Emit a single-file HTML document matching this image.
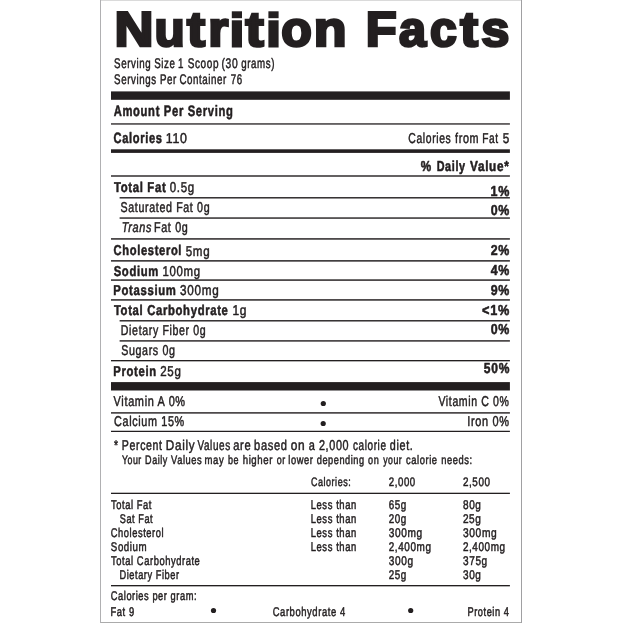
<!DOCTYPE html>
<html><head><meta charset="utf-8"><title>Nutrition Facts</title>
<style>
html,body{margin:0;padding:0;background:#fff;}
body{width:623px;height:623px;overflow:hidden;font-family:"Liberation Sans",sans-serif;}
svg{display:block;will-change:transform}
text{font-family:"Liberation Sans",sans-serif;fill:#231f20;stroke:#231f20;stroke-linejoin:round;text-rendering:geometricPrecision;letter-spacing:0.06em}
.b{font-weight:bold}.i{font-style:italic}
.t text{stroke-linejoin:miter;stroke-miterlimit:6;letter-spacing:0}
</style></head><body>
<svg width="623" height="623" viewBox="0 0 623 623">
<rect x="0" y="0" width="623" height="623" fill="#fff"/>

<rect x="100" y="0" width="422" height="1" fill="#dadada"/><rect x="100" y="622" width="422" height="1" fill="#ababab"/><rect x="100" y="0" width="1" height="623" fill="#b0b0b2"/><rect x="521" y="0" width="1" height="623" fill="#a0a0a2"/>
<rect x="111.0" y="91.4" width="398.9" height="8.40" fill="#231f20"/>
<rect x="111.0" y="123.3" width="398.9" height="1.30" fill="#231f20"/>
<rect x="111.0" y="149.3" width="398.9" height="3.60" fill="#231f20"/>
<rect x="111.0" y="175.3" width="398.9" height="1.40" fill="#231f20"/>
<rect x="119.6" y="197.1" width="390.3" height="1.40" fill="#231f20"/>
<rect x="119.6" y="217.35" width="390.3" height="1.40" fill="#231f20"/>
<rect x="111.0" y="238.2" width="398.9" height="1.45" fill="#231f20"/>
<rect x="111.0" y="260.15" width="398.9" height="1.45" fill="#231f20"/>
<rect x="111.0" y="279.35" width="398.9" height="1.45" fill="#231f20"/>
<rect x="111.0" y="299.2" width="398.9" height="1.45" fill="#231f20"/>
<rect x="119.6" y="320.1" width="390.3" height="1.40" fill="#231f20"/>
<rect x="119.6" y="340.2" width="390.3" height="1.40" fill="#231f20"/>
<rect x="111.0" y="360.0" width="398.9" height="1.35" fill="#231f20"/>
<rect x="111.0" y="382.1" width="398.9" height="8.40" fill="#231f20"/>
<rect x="111.0" y="412.2" width="398.9" height="1.40" fill="#231f20"/>
<rect x="111.0" y="430.75" width="398.9" height="1.25" fill="#231f20"/>
<rect x="111.0" y="492.7" width="398.9" height="1.30" fill="#231f20"/>
<rect x="111.0" y="585.0" width="398.9" height="1.35" fill="#231f20"/>
<circle cx="323.3" cy="403.5" r="2.6" fill="#231f20"/>
<circle cx="323.2" cy="423.5" r="2.6" fill="#231f20"/>
<circle cx="213.5" cy="610.5" r="2.6" fill="#231f20"/>
<circle cx="410.7" cy="610.5" r="2.6" fill="#231f20"/>
<text transform="translate(114.09 68) scale(0.7000 1)" font-size="13.91" stroke-width="0.5">Serving</text>
<text transform="translate(154.18 68) scale(0.7000 1)" font-size="13.91" stroke-width="0.5">Size</text>
<text transform="translate(178.08 68) scale(0.7000 1)" font-size="13.91" stroke-width="0.5">1</text>
<text transform="translate(187.68 68) scale(0.7197 1)" font-size="13.91" stroke-width="0.5">Scoop</text>
<text transform="translate(221.57 68) scale(0.7398 1)" font-size="13.91" stroke-width="0.5">(30</text>
<text transform="translate(241.19 68) scale(0.7000 1)" font-size="13.91" stroke-width="0.5">grams)</text>
<text transform="translate(114.06 84) scale(0.7000 1)" font-size="13.91" stroke-width="0.5">Servings</text>
<text transform="translate(159.93 84) scale(0.7000 1)" font-size="13.91" stroke-width="0.5">Per</text>
<text transform="translate(179.38 84) scale(0.7000 1)" font-size="13.91" stroke-width="0.5">Container</text>
<text transform="translate(230.65 84) scale(0.7000 1)" font-size="13.91" stroke-width="0.5">76</text>
<text transform="translate(121.84 450) scale(0.7444 1)" font-size="14.20" stroke-width="0.5">Percent</text>
<text transform="translate(165.77 450) scale(0.8250 1)" font-size="14.20" stroke-width="0.5">Daily</text>
<text transform="translate(197.49 450) scale(0.7000 1)" font-size="14.20" stroke-width="0.5">Values</text>
<text transform="translate(233.25 450) scale(0.7853 1)" font-size="14.20" stroke-width="0.5">are</text>
<text transform="translate(254.12 450) scale(0.7814 1)" font-size="14.20" stroke-width="0.5">based</text>
<text transform="translate(290.63 450) scale(0.8409 1)" font-size="14.20" stroke-width="0.5">on</text>
<text transform="translate(308.65 450) scale(0.7736 1)" font-size="14.20" stroke-width="0.5">a</text>
<text transform="translate(318.95 450) scale(0.7630 1)" font-size="14.20" stroke-width="0.5">2,000</text>
<text transform="translate(352.98 450) scale(0.7030 1)" font-size="14.20" stroke-width="0.5">calorie</text>
<text transform="translate(389.86 450) scale(0.7576 1)" font-size="14.20" stroke-width="0.5">diet.</text>
<text transform="translate(121.91 464) scale(0.7152 1)" font-size="12.32" stroke-width="0.5">Your</text>
<text transform="translate(145.06 464) scale(0.7344 1)" font-size="12.32" stroke-width="0.5">Daily</text>
<text transform="translate(171.10 464) scale(0.7547 1)" font-size="12.32" stroke-width="0.5">Values</text>
<text transform="translate(204.53 464) scale(0.7746 1)" font-size="12.32" stroke-width="0.5">may</text>
<text transform="translate(227.95 464) scale(0.7302 1)" font-size="12.32" stroke-width="0.5">be</text>
<text transform="translate(242.72 464) scale(0.7821 1)" font-size="12.32" stroke-width="0.5">higher</text>
<text transform="translate(276.72 464) scale(0.7240 1)" font-size="12.32" stroke-width="0.5">or</text>
<text transform="translate(288.34 464) scale(0.7581 1)" font-size="12.32" stroke-width="0.5">lower</text>
<text transform="translate(316.72 464) scale(0.7479 1)" font-size="12.32" stroke-width="0.5">depending</text>
<text transform="translate(368.12 464) scale(0.7382 1)" font-size="12.32" stroke-width="0.5">on</text>
<text transform="translate(383.18 464) scale(0.7096 1)" font-size="12.32" stroke-width="0.5">your</text>
<text transform="translate(406.02 464) scale(0.7618 1)" font-size="12.32" stroke-width="0.5">calorie</text>
<text transform="translate(441.24 464) scale(0.7580 1)" font-size="12.32" stroke-width="0.5">needs:</text>
<text class="b" transform="translate(113.67 116) scale(0.7411 1)" font-size="15.14" stroke-width="0.55">Amount Per Serving</text>
<text class="b" transform="translate(113.56 143) scale(0.7398 1)" font-size="15.00" stroke-width="0.55">Calories</text>
<text transform="translate(165.72 143) scale(0.8665 1)" font-size="14.35" stroke-width="0.5">110</text>
<text transform="translate(408.36 143) scale(0.7220 1)" font-size="14.35" stroke-width="0.5">Calories</text>
<text transform="translate(454.98 143) scale(0.7542 1)" font-size="14.35" stroke-width="0.5">from</text>
<text transform="translate(482.26 143) scale(0.7085 1)" font-size="14.35" stroke-width="0.5">Fat</text>
<text transform="translate(502.84 143) scale(0.8145 1)" font-size="14.35" stroke-width="0.5">5</text>
<text class="b" transform="translate(420.87 171) scale(0.8148 1)" font-size="14.42" stroke-width="0.55">%</text>
<text class="b" transform="translate(436.65 171) scale(0.7502 1)" font-size="14.42" stroke-width="0.55">Daily</text>
<text class="b" transform="translate(470.01 171) scale(0.8147 1)" font-size="14.42" stroke-width="0.55">Value*</text>
<text class="b" transform="translate(113.90 192) scale(0.7939 1)" font-size="14.28" stroke-width="0.55">Total Fat</text>
<text transform="translate(169.74 192) scale(0.8119 1)" font-size="14.20" stroke-width="0.5">0.5g</text>
<text class="b" transform="translate(490.49 196) scale(0.8703 1)" font-size="14.42" stroke-width="0.55">1%</text>
<text transform="translate(120.55 212) scale(0.7513 1)" font-size="14.20" stroke-width="0.5">Saturated Fat 0g</text>
<text class="b" transform="translate(490.69 215) scale(0.8609 1)" font-size="14.42" stroke-width="0.55">0%</text>
<text class="i" transform="translate(121.71 232) scale(0.7692 1)" font-size="14.20" stroke-width="0.5">Trans</text>
<text transform="translate(153.93 232) scale(0.7611 1)" font-size="14.20" stroke-width="0.5">Fat 0g</text>
<text class="b" transform="translate(113.57 255) scale(0.7797 1)" font-size="14.28" stroke-width="0.55">Cholesterol</text>
<text transform="translate(185.74 256) scale(0.8152 1)" font-size="14.20" stroke-width="0.5">5mg</text>
<text class="b" transform="translate(490.69 255) scale(0.8609 1)" font-size="14.42" stroke-width="0.55">2%</text>
<text class="b" transform="translate(113.68 276) scale(0.7886 1)" font-size="14.28" stroke-width="0.55">Sodium</text>
<text transform="translate(162.49 276) scale(0.8024 1)" font-size="14.20" stroke-width="0.5">100mg</text>
<text class="b" transform="translate(490.69 275) scale(0.8609 1)" font-size="14.42" stroke-width="0.55">4%</text>
<text class="b" transform="translate(113.23 295) scale(0.7934 1)" font-size="14.28" stroke-width="0.55">Potassium</text>
<text transform="translate(180.04 295) scale(0.8252 1)" font-size="14.20" stroke-width="0.5">300mg</text>
<text class="b" transform="translate(490.69 295) scale(0.8609 1)" font-size="14.42" stroke-width="0.55">9%</text>
<text class="b" transform="translate(113.90 315) scale(0.7900 1)" font-size="14.28" stroke-width="0.55">Total Carbohydrate</text>
<text transform="translate(232.45 315) scale(0.8461 1)" font-size="14.20" stroke-width="0.5">1g</text>
<text class="b" transform="translate(482.03 315) scale(0.8840 1)" font-size="14.42" stroke-width="0.55">&lt;1%</text>
<text transform="translate(120.84 335) scale(0.7464 1)" font-size="14.20" stroke-width="0.5">Dietary Fiber 0g</text>
<text class="b" transform="translate(490.69 334) scale(0.8609 1)" font-size="14.42" stroke-width="0.55">0%</text>
<text transform="translate(121.15 355) scale(0.7531 1)" font-size="14.20" stroke-width="0.5">Sugars 0g</text>
<text class="b" transform="translate(113.23 376) scale(0.7896 1)" font-size="14.28" stroke-width="0.55">Protein</text>
<text transform="translate(160.23 376) scale(0.8134 1)" font-size="14.20" stroke-width="0.5">25g</text>
<text class="b" transform="translate(483.87 373) scale(0.8362 1)" font-size="14.42" stroke-width="0.55">50%</text>
<text transform="translate(113.58 406) scale(0.7715 1)" font-size="14.20" stroke-width="0.5">Vitamin A 0%</text>
<text transform="translate(438.38 406) scale(0.7425 1)" font-size="14.20" stroke-width="0.5">Vitamin C 0%</text>
<text transform="translate(114.05 426) scale(0.7614 1)" font-size="14.20" stroke-width="0.5">Calcium 15%</text>
<text transform="translate(467.20 426) scale(0.7732 1)" font-size="14.20" stroke-width="0.5">Iron 0%</text>
<text transform="translate(113.98 450) scale(0.7311 1)" font-size="14.20" stroke-width="0.5">*</text>
<text transform="translate(311.03 486) scale(0.7271 1)" font-size="12.32" stroke-width="0.5">Calories:</text>
<text transform="translate(388.71 486) scale(0.7844 1)" font-size="12.32" stroke-width="0.5">2,000</text>
<text transform="translate(462.91 486) scale(0.8025 1)" font-size="12.32" stroke-width="0.5">2,500</text>
<text transform="translate(110.82 600) scale(0.7350 1)" font-size="12.61" stroke-width="0.5">Calories per gram:</text>
<text transform="translate(110.54 616) scale(0.7443 1)" font-size="12.61" stroke-width="0.5">Fat 9</text>
<text transform="translate(272.72 616) scale(0.7484 1)" font-size="12.61" stroke-width="0.5">Carbohydrate 4</text>
<text transform="translate(467.44 616) scale(0.7338 1)" font-size="12.61" stroke-width="0.5">Protein 4</text>
<text transform="translate(111.10 509) scale(0.7419 1)" font-size="12.61" stroke-width="0.5">Total Fat</text>
<text transform="translate(310.73 509) scale(0.7494 1)" font-size="12.61" stroke-width="0.5">Less than</text>
<text transform="translate(388.70 509) scale(0.7793 1)" font-size="12.61" stroke-width="0.5">65g</text>
<text transform="translate(463.00 509) scale(0.7933 1)" font-size="12.61" stroke-width="0.5">80g</text>
<text transform="translate(119.82 523) scale(0.7265 1)" font-size="12.61" stroke-width="0.5">Sat Fat</text>
<text transform="translate(310.73 523) scale(0.7494 1)" font-size="12.61" stroke-width="0.5">Less than</text>
<text transform="translate(388.70 523) scale(0.7793 1)" font-size="12.61" stroke-width="0.5">20g</text>
<text transform="translate(462.90 523) scale(0.7979 1)" font-size="12.61" stroke-width="0.5">25g</text>
<text transform="translate(110.82 537) scale(0.7391 1)" font-size="12.61" stroke-width="0.5">Cholesterol</text>
<text transform="translate(310.73 537) scale(0.7494 1)" font-size="12.61" stroke-width="0.5">Less than</text>
<text transform="translate(388.80 537) scale(0.8006 1)" font-size="12.61" stroke-width="0.5">300mg</text>
<text transform="translate(462.99 537) scale(0.8104 1)" font-size="12.61" stroke-width="0.5">300mg</text>
<text transform="translate(110.81 551) scale(0.7712 1)" font-size="12.61" stroke-width="0.5">Sodium</text>
<text transform="translate(310.73 551) scale(0.7494 1)" font-size="12.61" stroke-width="0.5">Less than</text>
<text transform="translate(388.70 551) scale(0.7894 1)" font-size="12.61" stroke-width="0.5">2,400mg</text>
<text transform="translate(462.90 551) scale(0.7875 1)" font-size="12.61" stroke-width="0.5">2,400mg</text>
<text transform="translate(111.10 565) scale(0.7427 1)" font-size="12.61" stroke-width="0.5">Total Carbohydrate</text>
<text transform="translate(388.80 565) scale(0.8000 1)" font-size="12.61" stroke-width="0.5">300g</text>
<text transform="translate(463.00 565) scale(0.7966 1)" font-size="12.61" stroke-width="0.5">375g</text>
<text transform="translate(119.54 579) scale(0.7323 1)" font-size="12.61" stroke-width="0.5">Dietary Fiber</text>
<text transform="translate(388.70 579) scale(0.7793 1)" font-size="12.61" stroke-width="0.5">25g</text>
<text transform="translate(463.00 579) scale(0.7933 1)" font-size="12.61" stroke-width="0.5">30g</text>
<g class="b t" font-size="49.02" fill="#231f20" stroke="#231f20" stroke-width="2.7"><g><text transform="translate(114.54 46) scale(1.1017 1)">N</text><text transform="translate(154.47 46) scale(1.0094 1)">u</text><text transform="translate(186.92 46) scale(1.1084 1)">t</text><text transform="translate(208.17 46) scale(1.0505 1)">r</text><rect x="231.8" y="11.3" width="10.2" height="6.9" stroke="none"/><rect x="231.8" y="20.3" width="10.2" height="27.2" stroke="none"/><text x="231.8" y="46" style="fill:none;stroke:none">i</text><text transform="translate(245.52 46) scale(1.1140 1)">t</text><rect x="268.4" y="11.3" width="10.2" height="6.9" stroke="none"/><rect x="268.4" y="20.3" width="10.2" height="27.2" stroke="none"/><text x="268.4" y="46" style="fill:none;stroke:none">i</text><text transform="translate(281.28 46) scale(1.0208 1)">o</text><text transform="translate(313.69 46) scale(1.0954 1)">n</text></g><g><text transform="translate(365.78 46) scale(1.0335 1)">F</text><text transform="translate(399.08 46) scale(0.9930 1)">a</text><text transform="translate(430.00 46) scale(0.9813 1)">c</text><text transform="translate(460.30 46) scale(1.0859 1)">t</text><text transform="translate(481.32 46) scale(1.0294 1)">s</text></g></g>
</svg></body></html>
